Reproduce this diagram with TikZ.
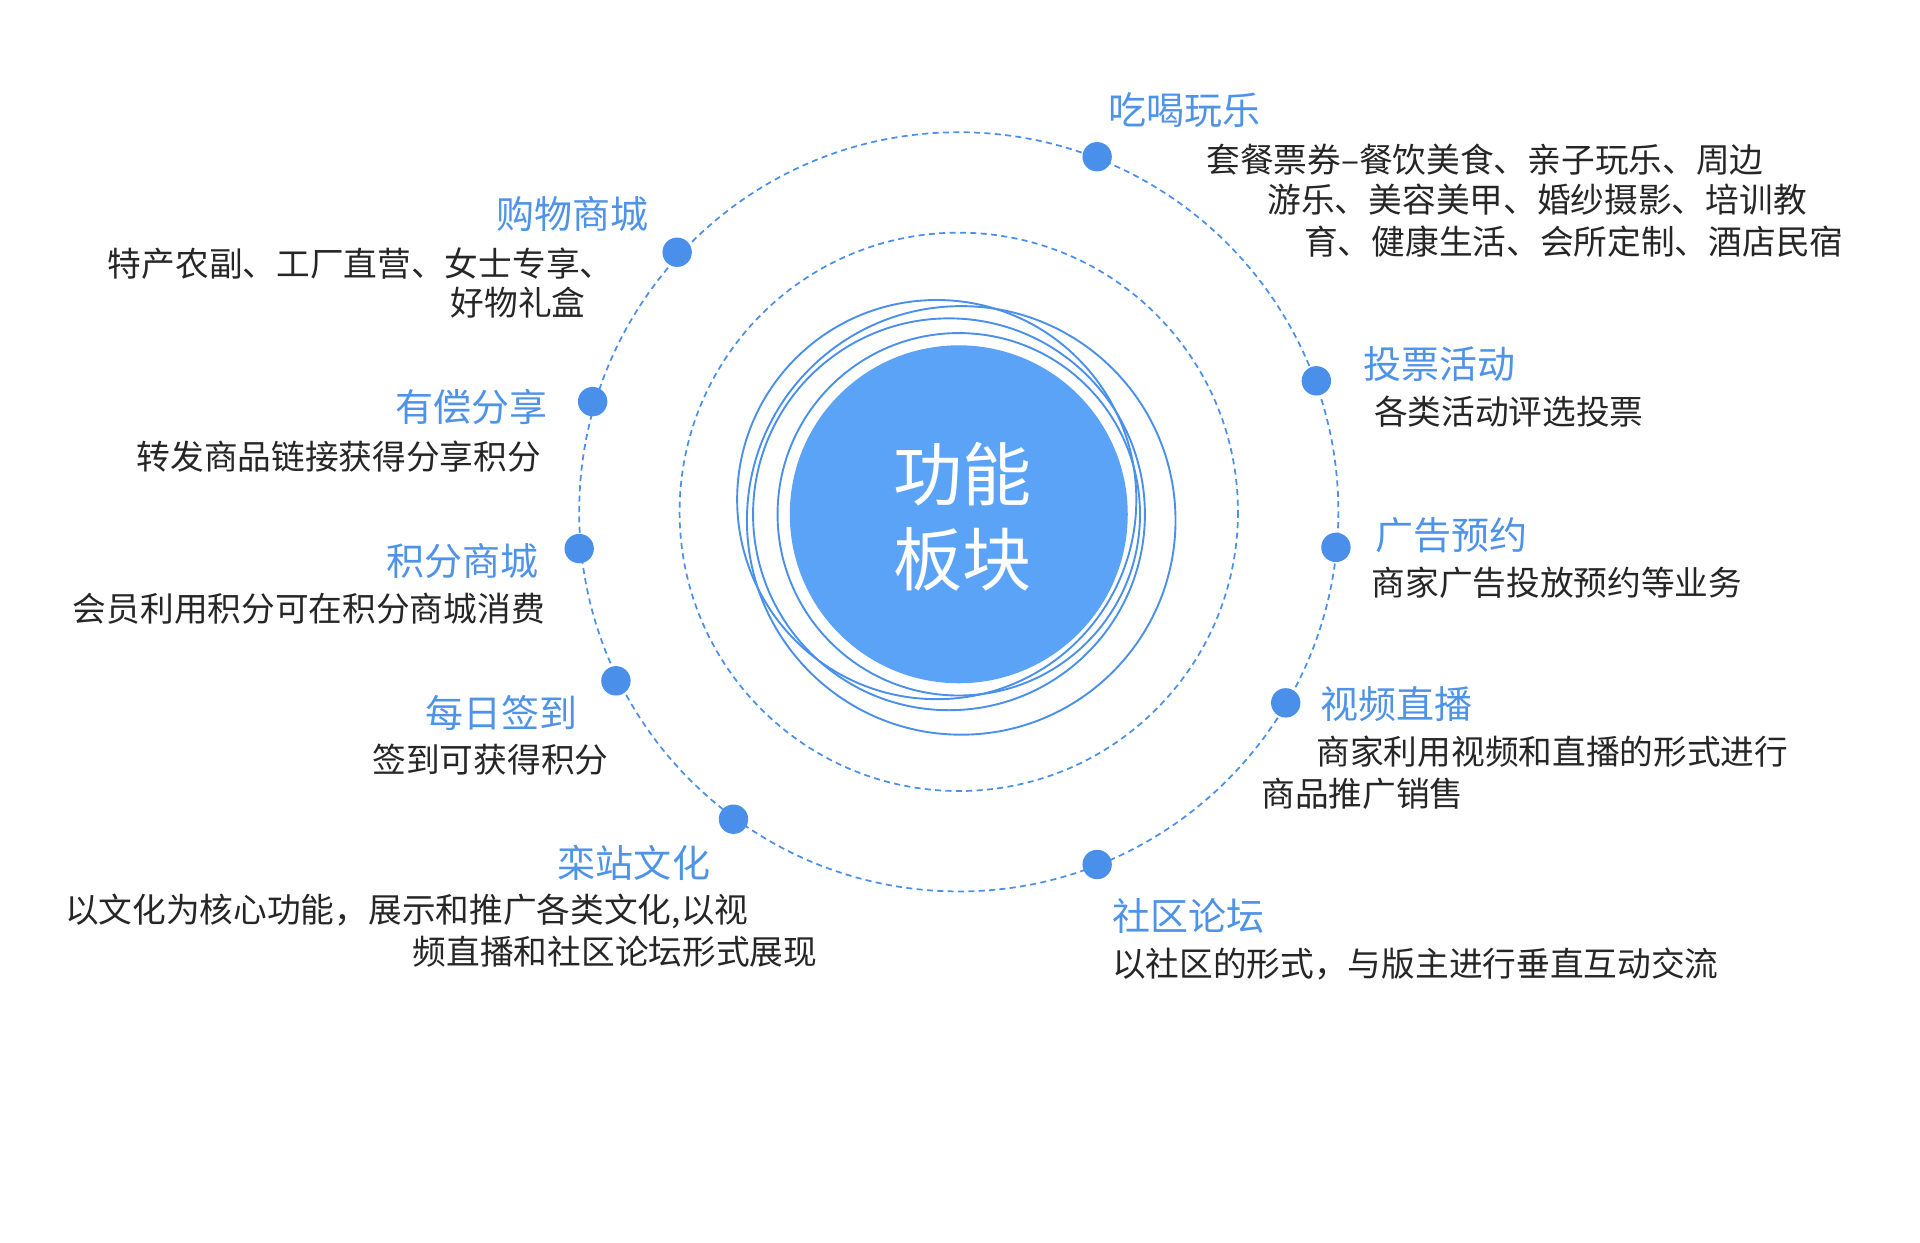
\documentclass[tikz,border=0pt]{standalone}
\usepackage{fontspec}
\setmainfont{Noto Sans CJK SC}
\definecolor{bl}{HTML}{4A8FEA}
\definecolor{fillb}{HTML}{5BA3F6}
\definecolor{tit}{HTML}{4F93E8}
\begin{document}
\begin{tikzpicture}[x=1.417pt,y=-1.417pt,
  tt/.style={inner sep=0pt,text=tit,font=\fontsize{44}{48}\selectfont},
  dd/.style={inner sep=0pt,text=black!85,font=\fontsize{39}{42}\selectfont},
  dot/.style={circle,fill=bl,inner sep=0pt,minimum size=34pt},
  ring/.style={draw=bl,line width=2.2pt}]
\useasboundingbox (0,0) rectangle (1568,1015);
\draw[bl,dashed,line width=2pt,dash pattern=on 7pt off 5pt] (783,418) circle[radius=310];
\draw[bl,dashed,line width=2pt,dash pattern=on 7pt off 5pt] (783,418) circle[radius=228];
\draw[ring] (765,408) circle[radius=163];
\draw[ring] (785,425) circle[radius=175];
\draw[ring] (775,420) circle[radius=160];
\draw[ring] (783,420) circle[radius=148];
\node[circle,fill=fillb,minimum size=276*1.417pt,inner sep=0pt] (c) at (783,420) {};
\node[text=white,align=center,font=\fontsize{80}{98}\selectfont] at (786,422) {功能\\板块};
\foreach \n/\p in {d1/{(896,128)},d2/{(553,206)},d3/{(484,328)},d4/{(473,448)},d5/{(503,556)},d6/{(599,669)},d7/{(896,706)},d8/{(1050,574)},d9/{(1091,447)},d10/{(1075,311)}}
  \node[dot] (\n) at \p {};
% right side
\node[tt,anchor=west] (t1) at (905,90) {吃喝玩乐};
\node[dd,anchor=west] (a1) at (985,130) {套餐票券--餐饮美食、亲子玩乐、周边};
\node[dd,anchor=west] (a2) at (1035,163) {游乐、美容美甲、婚纱摄影、培训教};
\node[dd,anchor=west] (a3) at (1065,197) {育、健康生活、会所定制、酒店民宿};
\node[tt,anchor=west] (t2) at (1113,297) {投票活动};
\node[dd,anchor=west] (b1) at (1122,336) {各类活动评选投票};
\node[tt,anchor=west] (t3) at (1123,437) {广告预约};
\node[dd,anchor=west] (c1) at (1120,476) {商家广告投放预约等业务};
\node[tt,anchor=west] (t4) at (1078,575) {视频直播};
\node[dd,anchor=west] (e1) at (1075,614) {商家利用视频和直播的形式进行};
\node[dd,anchor=west] (e2) at (1030,648) {商品推广销售};
\node[tt,anchor=west] (t5) at (908,748) {社区论坛};
\node[dd,anchor=west] (f1) at (908,787) {以社区的形式，与版主进行垂直互动交流};
% left side
\node[tt,anchor=east] (t6) at (530,175) {购物商城};
\node[dd,anchor=west] (g1) at (88,215) {特产农副、工厂直营、女士专享、};
\node[dd,anchor=west] (g2) at (368,247) {好物礼盒};
\node[tt,anchor=east] (t7) at (447,332) {有偿分享};
\node[dd,anchor=east] (h1) at (442,373) {转发商品链接获得分享积分};
\node[tt,anchor=east] (t8) at (440,458) {积分商城};
\node[dd,anchor=east] (i1) at (445,497) {会员利用积分可在积分商城消费};
\node[tt,anchor=east] (t9) at (472,582) {每日签到};
\node[dd,anchor=east] (j1) at (497,620) {签到可获得积分};
\node[tt,anchor=east] (t10) at (580,705) {栾站文化};
\node[dd,anchor=west] (k1) at (53,744) {以文化为核心功能，展示和推广各类文化,以视};
\node[dd,anchor=west] (k2) at (337,777) {频直播和社区论坛形式展现};
\end{tikzpicture}
\end{document}
